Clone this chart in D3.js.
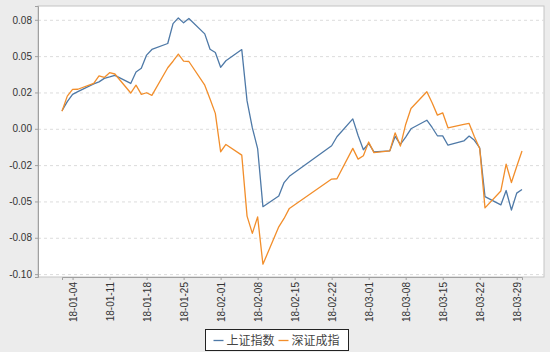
<!DOCTYPE html>
<html>
<head>
<meta charset="utf-8">
<script src="https://cdn.jsdelivr.net/npm/d3@7"></script>
<style>
  body { margin: 0; background: #ececec; }
  svg { display: block; }
</style>
</head>
<body>
<div class="vis-lines"></div>
<script>
// trading days, Jan - Mar 2018
const dates = [
  '2018-01-02','2018-01-03','2018-01-04','2018-01-05','2018-01-08','2018-01-09','2018-01-10','2018-01-11','2018-01-12',
  '2018-01-15','2018-01-16','2018-01-17','2018-01-18','2018-01-19','2018-01-22','2018-01-23','2018-01-24','2018-01-25',
  '2018-01-26','2018-01-29','2018-01-30','2018-01-31','2018-02-01','2018-02-02','2018-02-05','2018-02-06','2018-02-07',
  '2018-02-08','2018-02-09','2018-02-12','2018-02-13','2018-02-14','2018-02-22','2018-02-23','2018-02-26','2018-02-27',
  '2018-02-28','2018-03-01','2018-03-02','2018-03-05','2018-03-06','2018-03-07','2018-03-08','2018-03-09','2018-03-12',
  '2018-03-13','2018-03-14','2018-03-15','2018-03-16','2018-03-19','2018-03-20','2018-03-21','2018-03-22','2018-03-23',
  '2018-03-26','2018-03-27','2018-03-28','2018-03-29','2018-03-30'
];
// 上证指数
const shValues = [
  0.0124,0.0187,0.0237,0.0256,0.0309,0.0323,0.0347,0.0357,0.0368,
  0.0312,0.0391,0.0416,0.0507,0.0546,0.0587,0.0724,0.0763,0.0729,
  0.0759,0.0653,0.0547,0.0525,0.0423,0.0468,0.0545,0.0192,0.0006,
  -0.0136,-0.0536,-0.0463,-0.0370,-0.0327,-0.0117,-0.0055,0.0068,-0.0046,
  -0.0144,-0.0101,-0.0159,-0.0152,-0.0053,-0.0107,-0.0057,0.0000,0.0059,
  0.0009,-0.0048,-0.0049,-0.0113,-0.0084,-0.0050,-0.0079,-0.0132,-0.0467,
  -0.0524,-0.0425,-0.0559,-0.0443,-0.0418
];
// 深证成指
const szValues = [
  0.0121,0.0225,0.0271,0.0272,0.0312,0.0364,0.0353,0.0386,0.0377,
  0.0246,0.0300,0.0237,0.0248,0.0230,0.0420,0.0465,0.0514,0.0466,
  0.0463,0.0300,0.0205,0.0106,-0.0158,-0.0108,-0.0181,-0.0601,-0.0720,
  -0.0606,-0.0932,-0.0675,-0.0617,-0.0548,-0.0346,-0.0344,-0.0135,-0.0209,
  -0.0185,-0.0091,-0.0164,-0.0152,-0.0028,-0.0119,0.0030,0.0140,0.0255,
  0.0179,0.0094,0.0110,0.0007,0.0030,0.0037,-0.0055,-0.0135,-0.0544,
  -0.0428,-0.0243,-0.0370,-0.0260,-0.0153
];
const seriesNames = ['上证指数', '深证成指'];
const colors = ['#4e79a7', '#f28e2b'];

const xTicks = ['2018-01-04','2018-01-11','2018-01-18','2018-01-25','2018-02-01','2018-02-08','2018-02-15',
  '2018-02-22','2018-03-01','2018-03-08','2018-03-15','2018-03-22','2018-03-29'];
const yTicks = [0.075, 0.05, 0.025, 0, -0.025, -0.05, -0.075, -0.1];
const yTickLabels = ['0.08','0.05','0.02','0.00','-0.02','-0.05','-0.08','-0.10'];

const draw = () => {
  const width = 550;
  const height = 352;
  const plot = { left: 38, right: 544, top: 6, bottom: 277 };

  const parse = d3.timeParse('%Y-%m-%d');
  const days = dates.map(parse);

  const svg = d3.select('.vis-lines').append('svg')
    .attr('width', width).attr('height', height);

  svg.append('rect')
    .attr('width', width).attr('height', height).attr('fill', '#ececec');

  // plot area
  svg.append('rect')
    .attr('x', plot.left).attr('y', plot.top)
    .attr('width', plot.right - plot.left).attr('height', plot.bottom - plot.top)
    .attr('fill', '#fff').attr('stroke', '#c4c4c4');

  const x = d3.scaleTime()
    .domain(d3.extent(days))
    .range([62, 522]);

  const y = d3.scaleLinear()
    .domain([-0.102, 0.0845])
    .range([plot.bottom, plot.top]);

  // grid
  svg.append('g')
    .selectAll('line')
    .data(yTicks)
    .enter()
    .append('line')
    .attr('x1', plot.left).attr('x2', plot.right)
    .attr('y1', d => y(d) + 0.5).attr('y2', d => y(d) + 0.5)
    .attr('stroke', '#dcdcdc')
    .attr('stroke-dasharray', '3,3');

  // y axis
  const yAxis = svg.append('g')
    .attr('transform', `translate(${plot.left},0)`)
    .call(d3.axisLeft(y).tickValues(yTicks).tickSize(3).tickPadding(3)
      .tickFormat((d, i) => yTickLabels[i]));
  yAxis.select('.domain').attr('stroke', '#a0a0a0');
  yAxis.selectAll('.tick line').attr('stroke', '#a0a0a0');
  yAxis.selectAll('text')
    .attr('fill', '#333').style('font-family', 'Liberation Sans, Arial, sans-serif').style('font-size', '10px');

  // x axis
  const xAxis = svg.append('g')
    .attr('transform', `translate(0,${plot.bottom})`)
    .call(d3.axisBottom(x).tickValues(xTicks.map(parse)).tickSize(3)
      .tickFormat(d3.timeFormat('%y-%m-%d')));
  xAxis.select('.domain').attr('stroke', '#a0a0a0');
  xAxis.selectAll('.tick line').attr('stroke', '#a0a0a0');
  xAxis.selectAll('text')
    .attr('fill', '#333')
    .style('font-family', 'Liberation Sans, Arial, sans-serif').style('font-size', '10px')
    .attr('text-anchor', 'end')
    .attr('transform', 'rotate(-90)')
    .attr('x', -5).attr('y', 0).attr('dy', '0.35em');

  // lines
  const line = d3.line()
    .x((d, i) => x(days[i]))
    .y(d => y(d));

  svg.append('g')
    .selectAll('path')
    .data([shValues, szValues])
    .enter()
    .append('path')
    .attr('d', line)
    .attr('fill', 'none')
    .attr('stroke', (d, i) => colors[i])
    .attr('stroke-width', 1.3)
    .attr('stroke-linejoin', 'round');

  // legend
  const legend = svg.append('g').attr('transform', 'translate(205.5,329.5)');
  legend.append('rect')
    .attr('width', 143).attr('height', 21)
    .attr('fill', '#fff').attr('stroke', '#222');
  const items = legend.selectAll('g.item')
    .data(seriesNames)
    .enter()
    .append('g')
    .attr('class', 'item')
    .attr('transform', (d, i) => `translate(${8 + i * 65},11)`);
  items.append('line')
    .attr('x1', 0).attr('x2', 10)
    .attr('stroke', (d, i) => colors[i]).attr('stroke-width', 1.3);
  items.append('text')
    .attr('x', 13).attr('dy', '0.35em')
    .attr('fill', '#444')
    .style('font-family', 'Noto Sans CJK SC, sans-serif').style('font-size', '12px')
    .text(d => d);
};

draw();
</script>
</body>
</html>
